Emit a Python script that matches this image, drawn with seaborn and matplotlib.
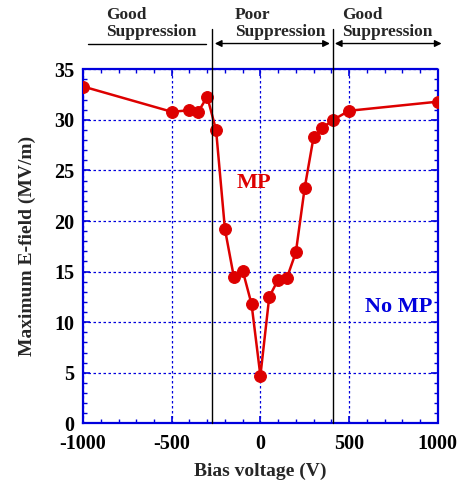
import matplotlib
matplotlib.use("Agg")
import matplotlib.pyplot as plt
import seaborn as sns
import pandas as pd
from matplotlib.ticker import MultipleLocator

sns.set_theme(style="white")
plt.rcParams['font.family'] = ['Liberation Serif', 'DejaVu Serif']
plt.rcParams['font.weight'] = 'bold'

bias_voltage = [-1000, -500, -400, -350, -300, -250, -200, -150, -100, -50, 0,
                50, 100, 150, 200, 250, 300, 350, 410, 500, 1000]
max_efield = [33.3, 30.8, 30.95, 30.8, 32.3, 29.0, 19.2, 14.5, 15.1, 11.8, 4.7,
              12.5, 14.2, 14.4, 16.9, 23.3, 28.3, 29.2, 30.0, 30.9, 31.8]
boundaries = [-272, 411]
region_labels = ["Good\nSuppression", "Poor\nSuppression", "Good\nSuppression"]

df = pd.DataFrame({"Bias voltage (V)": bias_voltage, "E": max_efield})

fig = plt.figure(figsize=(4.59, 4.83), dpi=100)
ax = fig.add_axes([0.181, 0.1236, 0.7726, 0.7329])

blue = '#0000dd'
red = '#dd0000'

sns.lineplot(data=df, x="Bias voltage (V)", y="E", sort=False, ax=ax,
             color=red, linewidth=1.8, marker='o', markersize=8.5,
             markeredgecolor=red, markerfacecolor=red, zorder=5)

ax.set_xlim(-1000, 1000)
ax.set_ylim(0, 35)
ax.xaxis.set_major_locator(MultipleLocator(500))
ax.xaxis.set_minor_locator(MultipleLocator(100))
ax.yaxis.set_major_locator(MultipleLocator(5))
ax.yaxis.set_minor_locator(MultipleLocator(1))

ax.grid(True, which='major', color=blue, linestyle=(0, (2, 2)), linewidth=0.9)
for s in ax.spines.values():
    s.set_color(blue)
    s.set_linestyle((0, (1.5, 1)))
    s.set_linewidth(1.6)

ax.tick_params(which='both', direction='in', top=True, right=True,
               bottom=True, left=True, color=blue, labelsize=14.5,
               labelcolor='black')
ax.tick_params(which='major', length=5, width=1.2)
ax.tick_params(which='minor', length=3, width=1.0)
ax.tick_params(axis='x', which='major', pad=8)
ax.tick_params(axis='y', which='major', pad=6.5)
ax.set_xticks([-1000, -500, 0, 500, 1000])
ax.set_xticklabels(['-1000', '-500', '0', '500', '1000'])
for lab in ax.get_xticklabels() + ax.get_yticklabels():
    lab.set_fontweight('bold')

ax.set_xlabel("Bias voltage (V)", fontsize=14, fontweight='bold', labelpad=6)
ax.set_ylabel("Maximum E-field (MV/m)", fontsize=14, fontweight='bold', labelpad=13)

# region boundaries
for b in boundaries:
    ax.plot([b, b], [0, 39.0], color='black', linewidth=1.0, clip_on=False, zorder=6)

ya = 37.55
ax.plot([-975, -309], [ya, ya], color='black', linewidth=1.0, clip_on=False)
ax.annotate('', xy=(-257, ya), xytext=(392, ya), xycoords='data',
            arrowprops=dict(arrowstyle='<|-|>', color='black', lw=1.0,
                            mutation_scale=10, shrinkA=0, shrinkB=0),
            annotation_clip=False)
ax.annotate('', xy=(420, ya), xytext=(1022, ya), xycoords='data',
            arrowprops=dict(arrowstyle='<|-|>', color='black', lw=1.0,
                            mutation_scale=10, shrinkA=0, shrinkB=0),
            annotation_clip=False)

for xl, txt in zip([-871, -144, 460], region_labels):
    ax.text(xl, 37.85, txt, ha='left', va='bottom', fontsize=12.5,
            fontweight='bold', linespacing=1.15, clip_on=False)

ax.text(-134, 23.8, "MP", color=red, fontsize=16, fontweight='bold',
        ha='left', va='center')
ax.text(590, 11.5, "No MP", color=blue, fontsize=16, fontweight='bold',
        ha='left', va='center')

fig.savefig("out.png", dpi=100)
